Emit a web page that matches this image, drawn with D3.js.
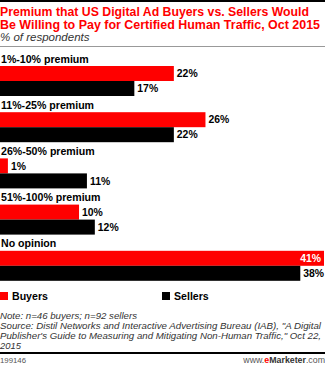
<!DOCTYPE html>
<html>
<head>
<meta charset="utf-8">
<script src="https://cdn.jsdelivr.net/npm/d3@7/dist/d3.min.js"></script>
<style>
  html, body { margin: 0; padding: 0; background: #fff; }
  svg { display: block; font-family: "Liberation Sans", Arial, sans-serif; }
</style>
</head>
<body>
<div id="chart"></div>
<script>
// Premium buyers vs. sellers would pay for certified human traffic (% of respondents)
const categories = ["1%-10% premium", "11%-25% premium", "26%-50% premium", "51%-100% premium", "No opinion"];
const seriesNames = ["Buyers", "Sellers"];
const buyers = [22, 26, 1, 10, 41];
const sellers = [17, 22, 11, 12, 38];
const seriesColors = ["#ff0000", "#000000"];

const titleLines = [
  "Premium that US Digital Ad Buyers vs. Sellers Would",
  "Be Willing to Pay for Certified Human Traffic, Oct 2015"
];
const subtitle = "% of respondents";
const noteLines = [
  "Note: n=46 buyers; n=92 sellers",
  "Source: Distil Networks and Interactive Advertising Bureau (IAB), \"A Digital",
  "Publisher's Guide to Measuring and Mitigating Non-Human Traffic,\" Oct 22,",
  "2015"
];
const chartId = "199146";

const W = 325, H = 365;
const svg = d3.select("#chart").append("svg").attr("width", W).attr("height", H);

// top rule
svg.append("rect").attr("x", 0).attr("y", 0).attr("width", W).attr("height", 2).attr("fill", "#000");

// title
const titleWidths = [309, 320];
titleLines.forEach((t, i) => {
  svg.append("text")
    .attr("x", 0).attr("y", 16 + i * 12.8)
    .attr("fill", "#ff0000")
    .attr("font-size", 12).attr("font-weight", "bold")
    .attr("textLength", titleWidths[i]).attr("lengthAdjust", "spacingAndGlyphs")
    .text(t);
});
svg.append("text")
  .attr("x", 0).attr("y", 41)
  .attr("fill", "#333").attr("font-size", 11.5).attr("font-style", "italic")
  .text(subtitle);

// grey rule under the heading
svg.append("rect").attr("x", 0).attr("y", 46).attr("width", W).attr("height", 1).attr("fill", "#999");

// data rows
const rows = categories.map((c, i) => ({ cat: c, values: [buyers[i], sellers[i]] }));

const x = d3.scaleLinear().domain([0, 41]).range([0, 324]);
const y0 = d3.scaleBand().domain(categories).range([66, 297]).paddingInner(0).paddingOuter(0);
const y1 = d3.scaleBand().domain(seriesNames).range([0, 30]);

const g = svg.append("g");
const groups = g.selectAll("g.row").data(rows).join("g")
  .attr("class", "row")
  .attr("transform", d => `translate(0,${y0(d.cat)})`);

groups.append("text")
  .attr("x", 1).attr("y", -3.5)
  .attr("font-size", 10.6).attr("font-weight", "bold").attr("fill", "#000")
  .text(d => d.cat);

const bars = groups.selectAll("g.bar")
  .data(d => d.values.map((v, k) => ({ v, k, name: seriesNames[k] })))
  .join("g").attr("class", "bar");

bars.append("rect")
  .attr("x", 0)
  .attr("y", d => y1(d.name))
  .attr("width", d => x(d.v))
  .attr("height", y1.bandwidth())
  .attr("fill", d => seriesColors[d.k]);

bars.append("text")
  .attr("x", d => x(d.v) > 310 ? x(d.v) - 3 : x(d.v) + 3)
  .attr("y", d => y1(d.name) + y1.bandwidth() / 2 + 3.7)
  .attr("text-anchor", d => x(d.v) > 310 ? "end" : "start")
  .attr("font-size", 10.4).attr("font-weight", "bold")
  .attr("fill", d => x(d.v) > 310 ? "#fff" : "#000")
  .text(d => d.v + "%");

// legend
const legendX = [0, 162];
seriesNames.forEach((s, k) => {
  svg.append("rect").attr("x", legendX[k]).attr("y", 292).attr("width", 8).attr("height", 8).attr("fill", seriesColors[k]);
  svg.append("text").attr("x", legendX[k] + 12).attr("y", 300)
    .attr("font-size", 10.6).attr("font-weight", "bold").attr("fill", "#000").text(s);
});

// notes
const noteWidths = [137, 321, 321, null];
noteLines.forEach((t, i) => {
  const tx = svg.append("text")
    .attr("x", 0).attr("y", 319 + i * 10)
    .attr("font-size", 9.4).attr("font-style", "italic").attr("fill", "#333")
    .text(t);
  if (noteWidths[i]) tx.attr("textLength", noteWidths[i]).attr("lengthAdjust", "spacingAndGlyphs");
});

// bottom rule and footer
svg.append("rect").attr("x", 0).attr("y", 352).attr("width", W).attr("height", 2).attr("fill", "#000");
svg.append("text").attr("x", 0).attr("y", 363).attr("font-size", 7.8).attr("fill", "#555").text(chartId);
const brand = svg.append("text").attr("x", W).attr("y", 363).attr("text-anchor", "end").attr("font-size", 8.8).attr("fill", "#555");
brand.append("tspan").text("www.");
brand.append("tspan").attr("fill", "#ff0000").attr("font-weight", "bold").text("e");
brand.append("tspan").attr("fill", "#333").attr("font-weight", "bold").text("Marketer");
brand.append("tspan").text(".com");
</script>
</body>
</html>
